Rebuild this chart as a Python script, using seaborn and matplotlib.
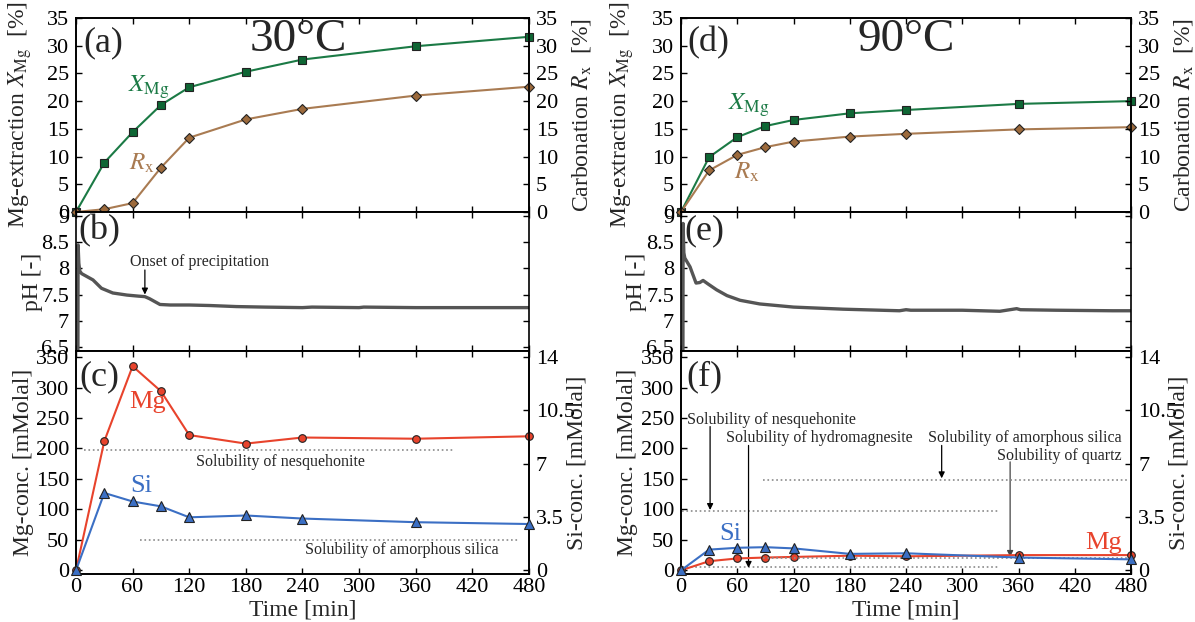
import matplotlib
matplotlib.use('Agg')
import matplotlib.pyplot as plt
import seaborn as sns

# sampling times [min]
time = [0, 30, 60, 90, 120, 180, 240, 360, 480]

# 30 C
xmg_30 = [0, 8.9, 14.4, 19.3, 22.5, 25.3, 27.5, 29.9, 31.6]
rx_30 = [0, 0.5, 1.6, 8.0, 13.4, 16.7, 18.6, 21.0, 22.6]
mg_30 = [0, 212, 335, 294, 222, 208, 218, 216, 220]
si_30 = [0, 5.08, 4.52, 4.20, 3.48, 3.60, 3.40, 3.16, 3.04]

# 90 C
xmg_90 = [0, 9.9, 13.5, 15.5, 16.6, 17.8, 18.4, 19.5, 20.0]
rx_90 = [0, 7.5, 10.3, 11.7, 12.7, 13.6, 14.1, 14.9, 15.3]
mg_90 = [0, 15, 19.5, 21, 22, 24, 23, 25, 25]
si_90 = [0, 1.36, 1.48, 1.52, 1.44, 1.08, 1.12, 0.84, 0.72]

# pH logs
ph30_t = [2, 2.2, 3, 4, 6, 10, 18, 27, 39, 54, 66, 73, 78, 84, 89, 100, 120,
          142, 170, 200, 240, 250, 300, 305, 360, 420, 480]
ph30 = [6.0, 8.45, 8.1, 7.95, 7.9, 7.86, 7.78, 7.62, 7.53, 7.49, 7.47, 7.46,
        7.42, 7.36, 7.31, 7.30, 7.30, 7.29, 7.27, 7.26, 7.25, 7.26, 7.25, 7.26,
        7.25, 7.25, 7.25]
ph90_t = [2, 2.2, 3, 4, 9.6, 16, 20, 23.5, 29, 38, 49, 63, 84, 120, 173, 233,
          240, 245, 300, 340, 358, 362, 400, 460, 480]
ph90 = [6.0, 8.86, 8.3, 8.2, 8.03, 7.72, 7.73, 7.77, 7.70, 7.59, 7.48, 7.39,
        7.32, 7.26, 7.22, 7.19, 7.21, 7.20, 7.20, 7.18, 7.23, 7.21, 7.20, 7.19,
        7.19]

# solubility limits: (level, start, end)
nesq_30 = [197, 8, 402]          # Mg, mMolal
amsil_30 = [2.0, 68, 470]        # Si, mMolal
nesq_90 = [97, 1, 340]
hydro_90 = [6, 1, 340]
amsil_90 = [5.9, 87, 477]
quartz_90 = [0.8, 87, 477]

GREEN, GREEN_M = '#1b7a45', '#0e6634'
BROWN, BROWN_M = '#a97b52', '#9c6a3c'
RED = '#e8432c'
BLUE = '#3b6fc4'
GRAY = '#555555'
DOT = '#8a8a8a'

sns.set_theme(style='ticks')
plt.rcParams['font.family'] = ['Liberation Serif', 'DejaVu Serif']
plt.rcParams['mathtext.fontset'] = 'stix'
plt.rcParams['axes.edgecolor'] = 'black'
plt.rcParams['axes.linewidth'] = 1.2

TICK = 16
LAB = 17
NOTE = 11.5

fig = plt.figure(figsize=(11.95, 6.22), dpi=100)


def ticks(ax, right=True, top=True, labelbottom=False):
    ax.tick_params(direction='in', length=4, width=1, top=top, right=right,
                   labelsize=TICK, labelbottom=labelbottom, colors='black')
    ax.tick_params(axis='y', pad=5)
    ax.tick_params(axis='x', pad=3)


def ylab(ax, text, x):
    ax.set_ylabel(text, fontsize=LAB)
    ax.yaxis.label.set_va('center')
    ax.yaxis.set_label_coords(x, 0.5)


def series(ax, x, y, color, face, marker, ms=6):
    sns.lineplot(x=x, y=y, ax=ax, color=color, marker=marker, markersize=ms,
                 markerfacecolor=face, markeredgecolor='#222222',
                 markeredgewidth=0.8, linewidth=1.5, estimator=None,
                 sort=False, clip_on=False, zorder=3)


def arrow(ax, x, y0, y1, color='black'):
    ax.annotate('', xy=(x, y1), xytext=(x, y0),
                arrowprops=dict(arrowstyle='-|>', color=color, lw=0.9,
                                mutation_scale=9, shrinkA=0, shrinkB=0))


cols = [
    dict(left=0.0636, width=0.379, temp='30°C', letters='abc',
         xmg=xmg_30, rx=rx_30, mg=mg_30, si=si_30, pht=ph30_t, ph=ph30,
         lx=[-0.124, -0.096, -0.115], rx_=[1.117, 1.107]),
    dict(left=0.5699, width=0.3766, temp='90°C', letters='def',
         xmg=xmg_90, rx=rx_90, mg=mg_90, si=si_90, pht=ph90_t, ph=ph90,
         lx=[-0.131, -0.099, -0.118], rx_=[1.117, 1.107]),
]

for k, c in enumerate(cols):
    axa = fig.add_axes([c['left'], 0.6592, c['width'], 0.3119])
    axb = fig.add_axes([c['left'], 0.4357, c['width'], 0.2235])
    axc = fig.add_axes([c['left'], 0.0772, c['width'], 0.3585])
    for ax in (axa, axb, axc):
        ax.set_xlim(0, 480)
        ax.set_xticks(range(0, 481, 60))

    # extraction / carbonation
    axa2 = axa.twinx()
    axa.set_ylim(0, 35)
    axa2.set_ylim(0, 35)
    for a in (axa, axa2):
        a.set_yticks(range(0, 36, 5))
    series(axa, time, c['xmg'], GREEN, GREEN_M, 's', 5.5)
    series(axa, time, c['rx'], BROWN, BROWN_M, 'D', 5.5)
    ticks(axa, right=False)
    ticks(axa2, top=False)
    ylab(axa, r'Mg-extraction $X_{\mathrm{Mg}}$  [%]', c['lx'][0])
    ylab(axa2, r'Carbonation $R_{\mathrm{x}}$  [%]', c['rx_'][0])
    axa.text(29, 30.6, '(' + c['letters'][0] + ')', fontsize=26,
             ha='center', va='center')
    axa.text(236 + 4 * k, 31.0, c['temp'], fontsize=34, ha='center',
             va='center')
    if k == 0:
        axa.text(77, 22.4, r'$X_{\mathrm{Mg}}$', color=GREEN, fontsize=18,
                 ha='center', va='center')
        axa.text(70, 8.8, r'$R_{\mathrm{x}}$', color=BROWN, fontsize=18,
                 ha='center', va='center')
    else:
        axa.text(72, 19.3, r'$X_{\mathrm{Mg}}$', color=GREEN, fontsize=18,
                 ha='center', va='center')
        axa.text(70, 7.2, r'$R_{\mathrm{x}}$', color=BROWN, fontsize=18,
                 ha='center', va='center')

    # pH
    sns.lineplot(x=c['pht'], y=c['ph'], ax=axb, color=GRAY, linewidth=2.4,
                 estimator=None, sort=False)
    axb.set_ylim(6.42, 9.08)
    axb.set_yticks([6.5, 7, 7.5, 8, 8.5, 9])
    axb.set_yticklabels(['6.5', '7', '7.5', '8', '8.5', '9'])
    ticks(axb)
    ylab(axb, 'pH [-]', c['lx'][1])
    axb.text(25, 8.72, '(' + c['letters'][1] + ')', fontsize=26,
             ha='center', va='center')
    if k == 0:
        axb.text(131, 8.12, 'Onset of precipitation', fontsize=NOTE,
                 ha='center', va='center')
        arrow(axb, 73, 7.97, 7.50)

    # concentrations
    axc2 = axc.twinx()
    axc.set_ylim(-6, 360)
    axc2.set_ylim(-6 / 25, 360 / 25)
    axc.set_yticks(range(0, 351, 50))
    axc2.set_yticks([0, 3.5, 7, 10.5, 14])
    axc2.set_yticklabels(['0', '3.5', '7', '10.5', '14'])
    ticks(axc, right=False, labelbottom=True)
    ticks(axc2, top=False)
    ylab(axc, 'Mg-conc. [mMolal]', c['lx'][2])
    ylab(axc2, 'Si-conc. [mMolal]', c['rx_'][1])
    axc.set_xlabel('Time [min]', fontsize=LAB, labelpad=2)
    axc.text(25, 318, '(' + c['letters'][2] + ')', fontsize=26,
             ha='center', va='center')

    if k == 0:
        lv, s, e = nesq_30
        axc.hlines(lv, s, e, colors=DOT, linestyles=':', linewidth=1.2)
        lv, s, e = amsil_30
        axc2.hlines(lv, s, e, colors=DOT, linestyles=':', linewidth=1.2)
        axc.text(217, 177, 'Solubility of nesquehonite', fontsize=NOTE,
                 ha='center', va='center')
        axc.text(345, 33, 'Solubility of amorphous silica', fontsize=NOTE,
                 ha='center', va='center')
        axc.text(76, 277, 'Mg', color=RED, fontsize=19, ha='center',
                 va='center')
        axc.text(69, 138, 'Si', color=BLUE, fontsize=19, ha='center',
                 va='center')
    else:
        for lim in (nesq_90, hydro_90):
            axc.hlines(lim[0], lim[1], lim[2], colors=DOT, linestyles=':',
                       linewidth=1.2)
        for lim in (amsil_90, quartz_90):
            axc2.hlines(lim[0], lim[1], lim[2], colors=DOT, linestyles=':',
                        linewidth=1.2)
        axc.text(6, 247, 'Solubility of nesquehonite', fontsize=NOTE,
                 ha='left', va='center')
        arrow(axc, 31, 236, 99)
        axc.text(48, 217, 'Solubility of hydromagnesite', fontsize=NOTE,
                 ha='left', va='center')
        arrow(axc, 72, 205, 4)
        axc.text(470, 217, 'Solubility of amorphous silica', fontsize=NOTE,
                 ha='right', va='center')
        arrow(axc, 278, 205, 151)
        axc.text(470, 188, 'Solubility of quartz', fontsize=NOTE,
                 ha='right', va='center')
        arrow(axc, 351, 178, 22, color='#444444')
        axc.text(451, 45, 'Mg', color=RED, fontsize=19, ha='center',
                 va='center')
        axc.text(52, 59, 'Si', color=BLUE, fontsize=19, ha='center',
                 va='center')

    series(axc, time, c['mg'], RED, RED, 'o', 5.5)
    series(axc2, time, c['si'], BLUE, BLUE, '^', 6.5)

fig.savefig('out.png', dpi=100)
